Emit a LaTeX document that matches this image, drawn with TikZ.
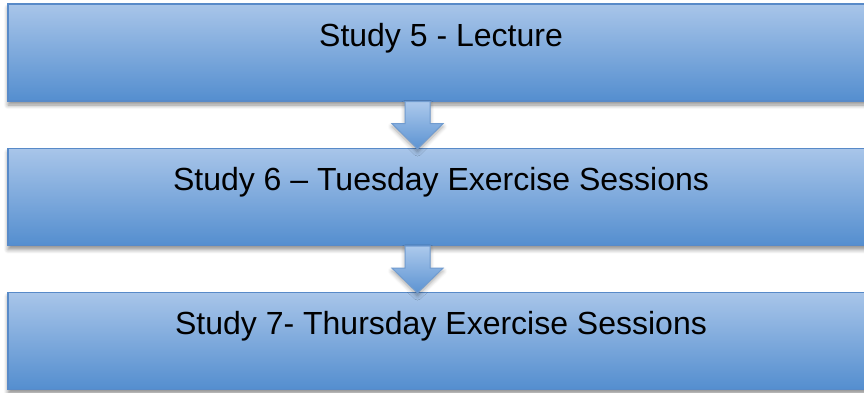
\documentclass[tikz,border=0pt]{standalone}
\usepackage{fontspec}
\setmainfont{Liberation Sans}
\usepackage{xcolor}
\usepackage{tikz}
\usetikzlibrary{calc,shadows.blur}

\definecolor{boxtop}{RGB}{168,197,233}
\definecolor{boxbottom}{RGB}{84,142,207}
\definecolor{boxline}{RGB}{88,138,200}
\definecolor{arrowtop}{RGB}{172,201,236}
\definecolor{arrowbottom}{RGB}{92,147,210}

% block arrow from the bottom of one box to the top of the next
\newcommand{\blockarrow}[2]{%
  \draw[flowarrow] ($(#1.south)+(-36,0)$) -- ++(0,22) -- ++(-13,0)
    -- ($(#2.north)+(-23.5,1)$) -- ($(#1.south)+(2,22)$) -- ++(-13,0)
    -- ++(0,-22) -- cycle;}

\begin{document}
\begin{tikzpicture}[x=0.5pt,y=-0.5pt,
    stepbox/.style={rectangle,draw=boxline,line width=0.6pt,top color=boxtop,bottom color=boxbottom,
      minimum width=433pt,minimum height=48.5pt,inner sep=0pt,
      blur shadow={shadow xshift=0pt,shadow yshift=-2pt,shadow blur steps=6,shadow opacity=45}},
    steptext/.style={anchor=base,inner sep=0pt,font=\fontsize{16}{19}\selectfont},
    flowarrow/.style={draw=boxline!85,line width=0.5pt,top color=arrowtop,bottom color=arrowbottom,
      blur shadow={shadow xshift=0pt,shadow yshift=-1.5pt,shadow blur steps=5,shadow opacity=35}}]
  \useasboundingbox (0,0) rectangle (864,392);
  \node[stepbox] (b1) at (441,52.5) {};
  \node[stepbox] (b2) at (441,197) {};
  \node[stepbox] (b3) at (441,341) {};
  \node[steptext] (t1) at ($(b1.north)+(0,43)$) {Study 5 - Lecture};
  \node[steptext] (t2) at ($(b2.north)+(0,42.5)$) {Study 6 – Tuesday Exercise Sessions};
  \node[steptext] (t3) at ($(b3.north)+(0,43)$) {Study 7- Thursday Exercise Sessions};
  \blockarrow{b1}{b2}
  \blockarrow{b2}{b3}
\end{tikzpicture}
\end{document}
